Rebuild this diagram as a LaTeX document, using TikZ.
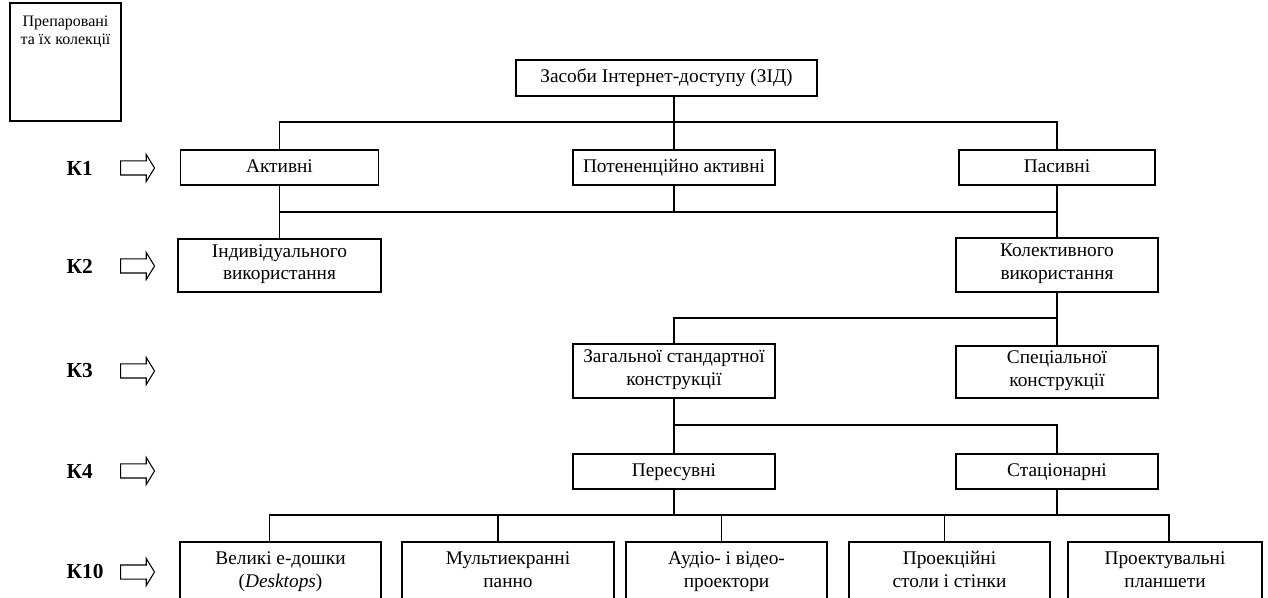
\documentclass[tikz,border=0pt]{standalone}
\usepackage{fontspec}
\setmainfont{Liberation Serif}
\usetikzlibrary{shapes.arrows}

\tikzset{
  blk/.style={draw, line width=1pt, align=center, inner sep=0pt,
    font=\fontsize{14.5}{17}\selectfont,
    execute at begin node=\strut, execute at end node=\strut},
  sz/.style 2 args={minimum width=#1*0.75pt, minimum height=#2*0.75pt},
  lvl/.style={font=\fontsize{16}{18}\selectfont\bfseries, anchor=west, inner sep=0pt},
  harrow/.style={single arrow, draw, line width=0.8pt, inner xsep=0pt, inner ysep=4.875pt,
    single arrow head extend=4.875pt, single arrow tip angle=117,
    minimum height=25.5pt, anchor=west},
}

\begin{document}
\begin{tikzpicture}[x=0.75pt,y=-0.75pt,line width=1pt]
  \useasboundingbox (0,0) rectangle (1268,598);

  % legend box
  \node[draw, line width=1pt, minimum width=111*0.75pt, minimum height=118*0.75pt,
    inner sep=0pt] (prep) at (65.5,62) {};
  \node[anchor=north, align=center, inner sep=0pt, font=\fontsize{12}{14}\selectfont]
    (preptxt) at (65.5,15) {Препаровані\\та їх колекції};

  % levels
  \foreach \k/\y in {1/168, 2/266, 3/371, 4/471, 10/572}{
    \node[lvl] (k\k) at (66,\y) {К\k};
    \node[harrow] (ar\k) at (120,\y) {};
  }

  % boxes
  \node[blk, sz={301}{36}] (zid) at (666.5,78) {Засоби Інтернет-доступу (ЗІД)};

  \node[blk, sz={198}{35}] (act) at (279.5,167.5) {Активні};
  \node[blk, sz={202}{35}] (pot) at (674,167.5) {Потененційно активні};
  \node[blk, sz={196}{35}] (pas) at (1057,167.5) {Пасивні};

  \node[blk, sz={203}{53}] (ind) at (279.5,265.5) {Індивідуального\\використання};
  \node[blk, sz={202}{54}] (kol) at (1057,265) {Колективного\\використання};

  \node[blk, sz={202}{54}] (zag) at (674,371) {Загальної стандартної\\конструкції};
  \node[blk, sz={202}{52}] (spe) at (1057,372) {Спеціальної\\конструкції};

  \node[blk, sz={202}{35}] (per) at (674,471.5) {Пересувні};
  \node[blk, sz={202}{35}] (sta) at (1057,471.5) {Стаціонарні};

  \node[blk, sz={201}{62}] (b1) at (280.5,573) {Великі е-дошки\\(\textit{Desktops})};
  \node[blk, sz={212}{62}] (b2) at (508,573) {Мультиекранні\\панно};
  \node[blk, sz={201}{62}] (b3) at (726.5,573) {Аудіо- і відео-\\проектори};
  \node[blk, sz={201}{62}] (b4) at (949.5,573) {Проекційні\\столи і стінки};
  \node[blk, sz={194}{62}] (b5) at (1165,573) {Проектувальні\\планшети};

  % buses
  \coordinate (bus1) at (0,122);
  \coordinate (bus2) at (0,212);
  \coordinate (bus3) at (0,318);
  \coordinate (bus4) at (0,425);
  \coordinate (bus5) at (0,515);
  \coordinate (t1) at ([xshift=-8.25pt]b1.north);
  \coordinate (t2) at ([xshift=-7.5pt]b2.north);
  \coordinate (t3) at ([xshift=-3.75pt]b3.north);
  \coordinate (t4) at ([xshift=-3.75pt]b4.north);
  \coordinate (t5) at ([xshift=3pt]b5.north);

  \draw (pot.north |- zid.south) -- (pot.north);
  \draw (act.north) |- (bus1 -| pas.north) -- (pas.north);

  \draw (act.south) -- (ind.north);
  \draw (pot.south) -- (pot.south |- bus2);
  \draw (bus2 -| act.south) -- (bus2 -| pas.south);
  \draw (pas.south) -- (kol.north);

  \draw (kol.south) -- (spe.north);
  \draw (zag.north) |- (bus3 -| kol.south);

  \draw (zag.south) -- (per.north);
  \draw (bus4 -| zag.south) -| (sta.north);

  \draw (per.south) -- (per.south |- bus5);
  \draw (sta.south) -- (sta.south |- bus5);
  \draw (t1) |- (bus5 -| t5) -- (t5);
  \draw (t2) -- (t2 |- bus5);
  \draw (t3) -- (t3 |- bus5);
  \draw (t4) -- (t4 |- bus5);
\end{tikzpicture}
\end{document}
